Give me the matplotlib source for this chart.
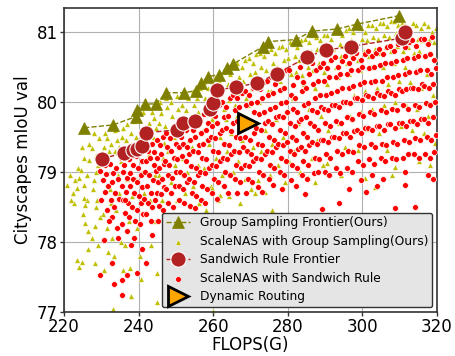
import matplotlib
matplotlib.use("Agg")
import matplotlib.pyplot as plt

# ---------------- data ----------------
group_frontier_x = [225.4, 233.1, 239.3, 239.6, 241.7, 244.7, 247.3, 252.2, 255.4, 256.7,
                    258.6, 261.6, 263.7, 265.3, 273.4, 274.7, 282.2, 286.5, 293.2, 298.6, 309.8]
group_frontier_y = [79.63, 79.67, 79.79, 79.89, 79.97, 79.97, 80.13, 80.13, 80.16, 80.27,
                    80.36, 80.39, 80.49, 80.54, 80.79, 80.86, 80.89, 81.01, 81.04, 81.11, 81.23]

sandwich_frontier_x = [230.2, 236.1, 238.5, 239.6, 240.9, 242.0, 250.3, 251.9, 255.1, 259.1,
                       259.9, 261.0, 266.1, 271.7, 277.1, 285.1, 290.2, 296.9, 310.6, 311.4]
sandwich_frontier_y = [79.19, 79.27, 79.31, 79.33, 79.37, 79.56, 79.60, 79.70, 79.73, 79.90,
                       79.99, 80.17, 80.21, 80.27, 80.40, 80.64, 80.74, 80.79, 80.91, 81.00]

dynamic_x = [269.3]
dynamic_y = [79.70]

group_samples = [
    (220.8, 78.82), (221.6, 78.95), (222.4, 78.70), (223.0, 78.88), (223.5, 78.77), (222.7, 78.55),
    (221.9, 78.60), (223.8, 79.05), (223.5, 77.74), (224.0, 77.64), (224.8, 77.71),
    (224.6, 79.03), (225.4, 79.20), (226.2, 78.96), (225.4, 78.81), (226.7, 79.17), (224.8, 79.35),
    (225.6, 78.53), (226.2, 78.60), (225.4, 78.63), (225.6, 78.27), (226.4, 78.16), (224.0, 78.91),
    (226.8, 79.40), (225.0, 78.40), (226.4, 77.90),
    (227.5, 79.34), (228.6, 79.24), (228.6, 79.00), (228.0, 78.89), (228.8, 78.60), (228.6, 78.50),
    (229.4, 79.49), (228.3, 78.23), (228.3, 77.70), (229.2, 79.10), (227.8, 78.75), (229.6, 78.35),
    (227.4, 78.05), (229.0, 77.95), (228.1, 79.55),
    (231.5, 79.49), (230.6, 79.35), (232.0, 79.30), (230.9, 79.55), (232.6, 79.40), (231.2, 79.20),
    (232.4, 78.75), (230.4, 78.40), (231.6, 78.20), (232.9, 78.05), (233.1, 77.04), (231.9, 77.85),
    (230.8, 77.60), (232.6, 78.55),
    (234.2, 79.46), (233.6, 79.60), (235.5, 79.50), (234.8, 79.35), (233.8, 79.30), (235.2, 79.15),
    (234.4, 78.95), (235.9, 77.60), (234.0, 78.45), (235.4, 78.00), (233.5, 77.80), (234.7, 78.70),
    (235.8, 79.62),
    (238.0, 79.56), (237.0, 79.68), (236.6, 79.45), (237.7, 77.63), (238.0, 77.23), (237.2, 79.30),
    (238.6, 79.40), (236.8, 78.90), (238.3, 78.65), (237.5, 78.30), (236.4, 77.95), (238.8, 79.72),
    (241.4, 79.60), (240.2, 79.75), (239.4, 79.50), (240.7, 77.47), (241.8, 79.45), (239.8, 79.30),
    (240.9, 79.00), (241.5, 78.70), (239.6, 78.20), (240.4, 77.80), (241.2, 79.85), (239.2, 78.90),
    (244.1, 79.77), (242.8, 79.70), (243.5, 79.85), (242.4, 79.55), (243.9, 79.50), (244.6, 79.62),
    (242.9, 79.25), (244.3, 78.95), (243.0, 78.60), (244.5, 78.30), (243.2, 77.95), (242.6, 79.95),
    (244.8, 77.55),
    (246.0, 79.84), (247.6, 79.93), (246.8, 79.41), (245.4, 79.70), (247.0, 79.65), (245.7, 80.00),
    (247.3, 80.05), (246.5, 79.20), (245.5, 78.95), (247.8, 79.30), (246.2, 78.60), (245.0, 77.14),
    (260.0, 77.01),
    (249.5, 79.50), (251.4, 79.74), (248.6, 80.00), (250.2, 80.08), (249.0, 79.80), (250.6, 79.90),
    (248.3, 79.60), (250.9, 79.35), (249.7, 79.10), (248.8, 78.85), (250.4, 78.60),
    (252.0, 80.10), (253.2, 80.05), (251.6, 79.95), (252.8, 79.88), (253.7, 79.78), (252.3, 79.60),
    (253.5, 79.45), (251.8, 79.20), (253.0, 79.00), (252.4, 78.70),
    (254.5, 80.15), (255.6, 80.05), (256.4, 80.20), (254.9, 79.95), (256.0, 79.85), (255.2, 79.70),
    (256.7, 79.55), (254.4, 79.35), (255.8, 79.10), (254.7, 78.80), (256.2, 78.55),
    (257.5, 80.28), (258.6, 80.20), (259.6, 80.30), (257.9, 80.05), (259.1, 80.00), (258.3, 79.85),
    (259.8, 79.75), (257.3, 79.60), (258.8, 79.40), (257.6, 79.05), (259.3, 78.80), (258.0, 78.45),
    (259.7, 78.77), (261.8, 78.67),
    (260.5, 80.35), (261.6, 80.30), (262.6, 80.42), (260.9, 80.15), (262.1, 80.12), (261.3, 79.95),
    (262.8, 79.90), (260.4, 79.70), (261.8, 79.50), (260.7, 79.20), (262.4, 78.95), (261.2, 78.60),
    (263.5, 80.45), (264.6, 80.40), (265.6, 80.50), (263.9, 80.25), (265.1, 80.20), (264.3, 80.02),
    (265.8, 79.95), (263.4, 79.75), (264.8, 79.55), (263.7, 79.30), (265.3, 79.00), (264.2, 78.65),
    (266.5, 80.55), (267.6, 80.50), (268.6, 80.60), (266.9, 80.35), (268.1, 80.30), (267.3, 80.12),
    (268.8, 80.05), (266.4, 79.80), (267.8, 79.45), (266.7, 79.15), (268.4, 78.90), (267.2, 78.55),
    (269.5, 80.62), (270.6, 80.55), (271.6, 80.68), (269.9, 80.40), (271.1, 80.42), (270.3, 80.20),
    (271.8, 80.28), (269.4, 79.95), (270.8, 79.35), (271.2, 78.70), (270.0, 78.75), (272.0, 78.89),
    (272.5, 80.70), (273.6, 80.65), (274.4, 80.72), (272.9, 80.50), (274.1, 80.45), (273.3, 80.30),
    (274.8, 80.15), (272.4, 80.00), (273.8, 79.60), (272.7, 79.30), (273.9, 78.71), (275.2, 78.96),
    (275.5, 80.75), (276.6, 80.70), (277.6, 80.78), (275.9, 80.55), (277.1, 80.50), (276.3, 80.40),
    (277.8, 80.30), (275.4, 80.15), (276.8, 79.75), (275.8, 79.40), (277.4, 79.10), (275.8, 78.46),
    (278.5, 80.80), (279.6, 80.75), (280.6, 80.85), (278.9, 80.60), (280.1, 80.62), (279.3, 80.45),
    (280.8, 80.40), (278.4, 80.20), (279.8, 79.85), (278.7, 79.50), (280.4, 79.15), (279.2, 78.85),
    (281.5, 80.82), (282.6, 80.78), (283.6, 80.88), (281.9, 80.65), (283.1, 80.60), (282.3, 80.42),
    (283.8, 80.38), (281.4, 80.05), (282.8, 79.70), (281.7, 79.30), (283.4, 79.00),
    (284.5, 80.90), (285.6, 80.85), (286.5, 80.95), (284.9, 80.70), (286.1, 80.72), (285.3, 80.50),
    (286.8, 80.45), (284.4, 80.25), (285.8, 79.90), (284.7, 79.55), (286.4, 79.20), (285.4, 78.93),
    (287.3, 78.86),
    (287.5, 80.92), (288.6, 80.88), (289.6, 80.95), (287.9, 80.75), (289.1, 80.70), (288.3, 80.55),
    (289.8, 80.42), (287.4, 80.20), (288.8, 79.80), (287.7, 79.45), (289.4, 79.10),
    (290.5, 80.95), (291.6, 80.90), (292.6, 81.00), (290.9, 80.78), (292.1, 80.75), (291.3, 80.60),
    (292.8, 80.50), (290.4, 80.25), (291.8, 79.95), (290.7, 79.60), (290.5, 79.13),
    (293.5, 81.00), (294.6, 80.95), (295.6, 81.02), (293.9, 80.82), (295.1, 80.80), (294.3, 80.65),
    (295.8, 80.55), (293.4, 80.35), (294.8, 80.00), (293.7, 79.70), (295.4, 79.35), (294.2, 78.95),
    (296.5, 81.05), (297.6, 81.00), (298.4, 81.08), (296.9, 80.88), (298.1, 80.85), (297.3, 80.68),
    (298.8, 80.60), (296.4, 80.40), (297.8, 80.10), (296.7, 79.80), (297.2, 79.31), (298.8, 79.31),
    (299.5, 81.06), (300.6, 81.00), (301.6, 81.10), (299.9, 80.90), (301.1, 80.88), (300.3, 80.72),
    (301.8, 80.65), (299.4, 80.45), (300.8, 80.15), (299.7, 79.85), (301.2, 79.61), (300.7, 78.91),
    (302.5, 81.10), (303.6, 81.05), (304.6, 81.12), (302.9, 80.92), (304.1, 80.90), (303.3, 80.75),
    (304.8, 80.70), (302.4, 80.50), (303.8, 80.20), (302.7, 79.90), (304.4, 79.55), (303.4, 78.79),
    (305.5, 81.12), (306.6, 81.08), (307.6, 81.15), (305.9, 80.95), (307.1, 80.92), (306.3, 80.78),
    (307.8, 80.72), (305.4, 80.50), (306.8, 80.25), (305.7, 79.95), (306.6, 79.31), (307.9, 78.96),
    (308.5, 81.15), (309.6, 81.10), (310.6, 81.12), (308.9, 80.98), (310.1, 80.95), (309.3, 80.80),
    (310.8, 80.72), (308.4, 80.55), (309.8, 80.30), (308.7, 80.00), (310.4, 79.65), (308.7, 79.07),
    (311.5, 81.10), (312.6, 81.05), (313.6, 81.12), (311.9, 80.95), (313.1, 80.92), (312.3, 80.78),
    (313.8, 80.70), (311.4, 80.50), (312.8, 80.28), (311.7, 79.95), (313.4, 79.60), (312.8, 79.27),
    (314.5, 81.10), (315.6, 81.05), (316.6, 81.12), (314.9, 80.90), (316.1, 80.88), (315.3, 80.72),
    (316.8, 80.65), (314.4, 80.45), (315.8, 80.20), (314.7, 79.90), (316.4, 79.55), (315.2, 79.15),
    (317.5, 81.08), (318.6, 81.00), (319.6, 81.05), (317.9, 80.88), (319.1, 80.85), (318.3, 80.70),
    (319.8, 80.60), (317.4, 80.40), (318.8, 80.10), (317.7, 79.80), (319.5, 79.41), (318.2, 79.10),
]

sandwich_samples = [
    (229.6, 79.02), (230.4, 78.88), (231.2, 78.97), (230.9, 78.72), (229.9, 78.60), (231.5, 78.45),
    (230.8, 78.03), (229.7, 77.53), (231.8, 78.80), (231.0, 79.10),
    (232.3, 79.12), (233.1, 78.98), (234.0, 79.05), (232.8, 78.85), (233.7, 78.70), (234.5, 78.90),
    (232.5, 78.60), (233.4, 78.50), (234.8, 78.62), (233.0, 78.35), (234.2, 78.20), (233.4, 77.40),
    (233.0, 77.70), (234.6, 78.05), (232.1, 78.30),
    (235.3, 79.20), (236.2, 79.10), (237.4, 79.18), (235.8, 79.00), (236.9, 78.92), (237.7, 78.98),
    (235.5, 78.80), (236.6, 78.72), (237.8, 78.80), (235.9, 78.60), (237.1, 78.55), (236.3, 78.42),
    (237.5, 78.35), (235.6, 78.25), (236.8, 78.15), (237.9, 77.95), (235.5, 77.46), (237.0, 77.53),
    (235.5, 77.24), (236.4, 78.60),
    (238.2, 79.30), (239.3, 79.22), (240.4, 79.28), (238.6, 79.10), (239.8, 79.05), (240.9, 79.15),
    (238.4, 78.90), (239.5, 78.85), (240.7, 78.95), (238.9, 78.70), (240.1, 78.65), (241.0, 78.78),
    (238.3, 78.50), (239.6, 78.45), (240.6, 78.55), (239.0, 78.30), (240.3, 78.25), (238.8, 78.06),
    (239.6, 77.56), (240.8, 77.90), (241.2, 78.40),
    (241.5, 79.35), (242.6, 79.30), (243.6, 79.40), (241.9, 79.15), (243.0, 79.20), (244.0, 79.10),
    (241.7, 79.00), (242.8, 78.95), (243.9, 78.88), (242.2, 78.80), (243.3, 78.70), (241.4, 78.62),
    (242.5, 78.55), (243.7, 78.50), (242.0, 78.40), (243.2, 78.30), (242.0, 77.70), (243.5, 78.10),
    (244.3, 78.60), (244.2, 79.28),
    (244.8, 79.45), (245.7, 79.38), (246.6, 79.50), (245.0, 79.20), (246.1, 79.25), (244.6, 79.02),
    (245.5, 79.05), (246.8, 79.12), (245.1, 78.85), (246.3, 78.90), (244.9, 78.70), (246.0, 78.68),
    (246.9, 78.78), (245.4, 78.52), (246.5, 78.45), (245.2, 78.30),
    (247.3, 79.55), (248.4, 79.48), (249.5, 79.58), (247.6, 79.35), (248.8, 79.30), (249.9, 79.40),
    (247.2, 79.15), (248.2, 79.10), (249.4, 79.20), (247.8, 78.95), (248.9, 78.92), (250.0, 79.00),
    (247.4, 78.75), (248.6, 78.70), (249.7, 78.80), (248.0, 78.55), (249.2, 78.50),
    (250.5, 79.62), (251.5, 79.50), (252.6, 79.60), (250.8, 79.35), (252.0, 79.40), (250.4, 79.18),
    (251.6, 79.22), (252.8, 79.15), (251.0, 79.00), (252.3, 78.95), (250.7, 78.80), (251.8, 78.75),
    (252.9, 78.85), (250.9, 78.60), (252.2, 78.55), (253.0, 79.35),
    (253.5, 79.68), (254.6, 79.60), (255.7, 79.70), (253.9, 79.45), (255.1, 79.50), (253.4, 79.25),
    (254.5, 79.30), (255.8, 79.28), (254.0, 79.08), (255.3, 79.05), (253.6, 78.90), (254.8, 78.85),
    (255.9, 78.95), (254.2, 78.70), (255.5, 78.65), (253.8, 78.52), (255.0, 78.48),
    (256.4, 79.75), (257.5, 79.82), (258.6, 79.70), (256.8, 79.55), (258.0, 79.60), (256.2, 79.38),
    (257.3, 79.40), (258.5, 79.45), (256.9, 79.20), (258.1, 79.18), (256.5, 79.00), (257.7, 78.98),
    (258.9, 79.05), (257.0, 78.80), (258.3, 78.75), (256.6, 78.60), (257.9, 78.55),
    (259.4, 79.90), (260.4, 79.80), (261.5, 79.95), (259.8, 79.65), (261.0, 79.70), (259.3, 79.50),
    (260.5, 79.48), (261.7, 79.55), (260.0, 79.30), (261.2, 79.28), (259.6, 79.10), (260.8, 79.08),
    (261.9, 79.15), (260.2, 78.90), (261.4, 78.85), (259.8, 78.70), (261.0, 78.62),
    (262.4, 80.00), (263.5, 79.92), (264.6, 80.05), (262.8, 79.78), (264.0, 79.80), (262.3, 79.60),
    (263.4, 79.62), (264.7, 79.58), (263.0, 79.40), (264.2, 79.38), (262.6, 79.20), (263.8, 79.18),
    (264.9, 79.25), (263.2, 79.00), (264.5, 78.95), (262.9, 78.80), (264.1, 78.70),
    (265.4, 80.10), (266.5, 80.05), (267.6, 80.12), (265.8, 79.88), (267.0, 79.92), (265.3, 79.70),
    (266.4, 79.72), (267.7, 79.68), (266.0, 79.50), (267.2, 79.48), (265.6, 79.30), (266.8, 79.28),
    (267.9, 79.35), (266.2, 79.10), (267.5, 79.05), (265.9, 78.90), (267.1, 78.85), (266.4, 78.70),
    (268.4, 80.15), (269.5, 80.10), (270.6, 80.20), (268.8, 79.95), (270.0, 79.98), (271.0, 79.85),
    (270.5, 79.68), (268.6, 79.50), (269.8, 79.45), (270.9, 79.55), (269.0, 79.30), (270.2, 79.25),
    (268.5, 79.10), (269.7, 79.08), (270.8, 79.15), (269.2, 78.90), (270.4, 78.85), (268.9, 78.70),
    (271.4, 80.25), (272.5, 80.18), (273.6, 80.28), (271.8, 80.00), (273.0, 80.05), (272.3, 79.82),
    (273.5, 79.85), (271.6, 79.62), (272.8, 79.60), (273.9, 79.70), (272.0, 79.40), (273.2, 79.38),
    (271.5, 79.20), (272.7, 79.18), (273.8, 79.25), (272.2, 79.00), (273.4, 78.95), (271.9, 78.78),
    (273.0, 78.72),
    (274.4, 80.30), (275.5, 80.35), (276.6, 80.25), (274.8, 80.10), (276.0, 80.12), (275.3, 79.90),
    (276.5, 79.92), (274.6, 79.72), (275.8, 79.68), (276.9, 79.78), (275.0, 79.50), (276.2, 79.45),
    (274.5, 79.30), (275.7, 79.28), (276.8, 79.35), (275.2, 79.10), (276.4, 79.05), (274.9, 78.90),
    (276.1, 78.82),
    (277.4, 80.40), (278.5, 80.38), (279.6, 80.45), (277.8, 80.17), (279.0, 80.20), (278.3, 79.98),
    (279.5, 80.00), (277.6, 79.80), (278.8, 79.78), (279.9, 79.85), (278.0, 79.60), (279.2, 79.55),
    (277.5, 79.40), (278.7, 79.38), (279.8, 79.42), (278.2, 79.20), (279.4, 79.15), (277.9, 79.00),
    (279.1, 78.95), (278.5, 78.75),
    (280.4, 80.45), (281.4, 80.24), (282.6, 80.35), (280.8, 80.10), (282.0, 80.05), (281.3, 79.90),
    (282.5, 79.85), (280.6, 79.70), (281.8, 79.65), (282.9, 79.72), (281.0, 79.50), (282.2, 79.45),
    (280.5, 79.30), (281.7, 79.25), (282.8, 79.32), (281.2, 79.10), (282.4, 79.05), (280.9, 78.88),
    (282.1, 78.80),
    (283.4, 80.50), (284.1, 80.29), (285.6, 80.40), (283.8, 80.15), (285.0, 80.20), (284.3, 79.95),
    (285.5, 79.98), (283.6, 79.75), (284.8, 79.78), (285.9, 79.70), (284.0, 79.55), (285.2, 79.50),
    (283.5, 79.35), (284.7, 79.30), (285.8, 79.38), (284.2, 79.15), (285.4, 79.10), (283.9, 78.95),
    (285.1, 78.90), (284.6, 78.68),
    (286.4, 80.55), (287.5, 80.45), (288.6, 80.50), (286.8, 80.25), (288.0, 80.30), (287.3, 80.05),
    (288.5, 80.10), (286.6, 79.88), (287.8, 79.85), (288.9, 79.92), (287.0, 79.65), (288.2, 79.60),
    (286.5, 79.42), (287.7, 79.40), (288.8, 79.45), (287.2, 79.20), (288.4, 79.18), (286.9, 78.98),
    (288.1, 79.00),
    (289.4, 80.55), (290.5, 80.48), (291.6, 80.60), (289.8, 80.30), (291.0, 80.35), (290.3, 80.10),
    (291.5, 80.12), (289.6, 79.90), (290.8, 79.88), (291.9, 79.95), (290.0, 79.70), (291.2, 79.65),
    (289.5, 79.45), (290.7, 79.42), (291.8, 79.50), (290.2, 79.25), (291.4, 79.20), (289.9, 79.00),
    (291.1, 78.95), (289.2, 78.47),
    (292.7, 80.64), (293.5, 80.50), (294.6, 80.58), (292.8, 80.35), (294.0, 80.40), (293.3, 80.15),
    (294.5, 80.20), (292.6, 79.95), (293.8, 79.92), (294.9, 80.00), (293.0, 79.72), (294.2, 79.70),
    (292.5, 79.50), (293.7, 79.48), (294.8, 79.55), (293.2, 79.30), (294.4, 79.25), (292.9, 79.05),
    (294.1, 78.98), (293.6, 78.55),
    (295.4, 80.65), (296.5, 80.55), (297.6, 80.62), (295.8, 80.40), (297.0, 80.45), (296.3, 80.20),
    (297.5, 80.22), (295.6, 80.00), (296.8, 79.98), (297.9, 80.05), (296.0, 79.78), (297.2, 79.75),
    (295.5, 79.55), (296.7, 79.50), (297.8, 79.58), (296.2, 79.30), (297.4, 79.28), (295.9, 79.05),
    (297.1, 79.00), (296.5, 78.75),
    (298.4, 80.70), (299.5, 80.60), (300.6, 80.68), (298.8, 80.45), (300.0, 80.50), (299.3, 80.25),
    (300.5, 80.28), (298.6, 80.05), (299.8, 80.02), (300.9, 80.10), (299.0, 79.82), (300.2, 79.80),
    (298.5, 79.60), (299.7, 79.55), (300.8, 79.62), (299.2, 79.38), (300.4, 79.35), (298.9, 79.15),
    (300.1, 79.10), (299.6, 78.88), (300.9, 78.72),
    (301.4, 80.72), (302.5, 80.65), (303.6, 80.70), (301.8, 80.48), (303.0, 80.50), (302.3, 80.28),
    (303.5, 80.30), (301.6, 80.08), (302.8, 80.05), (303.9, 80.12), (302.0, 79.85), (303.2, 79.82),
    (301.5, 79.62), (302.7, 79.60), (303.8, 79.65), (302.2, 79.40), (303.4, 79.36), (301.9, 79.18),
    (303.1, 79.12), (302.6, 78.95), (303.8, 78.80),
    (304.4, 80.75), (305.5, 80.68), (306.6, 80.78), (304.8, 80.52), (306.0, 80.55), (305.3, 80.30),
    (306.5, 80.35), (304.6, 80.10), (305.8, 80.08), (306.9, 80.15), (305.0, 79.88), (306.2, 79.85),
    (304.5, 79.65), (305.7, 79.60), (306.8, 79.68), (305.2, 79.40), (306.4, 79.38), (304.9, 79.20),
    (306.1, 79.15), (305.6, 78.90),
    (307.4, 80.80), (308.5, 80.72), (309.6, 80.82), (307.8, 80.55), (309.0, 80.58), (308.3, 80.35),
    (309.5, 80.38), (307.6, 80.12), (308.8, 80.10), (309.9, 80.18), (308.0, 79.90), (309.2, 79.88),
    (307.5, 79.68), (308.7, 79.62), (309.8, 79.70), (308.2, 79.42), (309.4, 79.40), (307.9, 79.20),
    (309.1, 79.18), (308.7, 78.49),
    (310.4, 80.85), (311.5, 80.78), (312.6, 80.86), (310.8, 80.60), (312.0, 80.62), (311.3, 80.40),
    (312.5, 80.42), (310.6, 80.15), (311.8, 80.18), (312.9, 80.20), (311.0, 79.95), (312.2, 79.90),
    (310.5, 79.70), (311.7, 79.65), (312.8, 79.72), (311.2, 79.45), (312.4, 79.42), (310.9, 79.20),
    (312.1, 79.25), (311.4, 78.81), (311.4, 79.00),
    (313.4, 80.88), (314.5, 80.80), (315.6, 80.90), (313.8, 80.62), (315.0, 80.65), (314.3, 80.42),
    (315.5, 80.45), (313.6, 80.20), (314.8, 80.18), (315.9, 80.25), (314.0, 79.95), (315.2, 79.92),
    (313.5, 79.72), (314.7, 79.68), (315.8, 79.75), (314.2, 79.48), (315.4, 79.45), (313.9, 79.25),
    (315.1, 79.20), (314.0, 78.50),
    (316.4, 80.90), (317.5, 80.82), (318.6, 80.92), (316.8, 80.65), (318.0, 80.68), (319.2, 80.60),
    (317.3, 80.45), (318.5, 80.40), (319.6, 80.48), (316.6, 80.22), (317.8, 80.20), (319.0, 80.25),
    (317.0, 79.98), (318.2, 79.95), (319.5, 80.00), (316.5, 79.75), (317.7, 79.70), (318.9, 79.78),
    (317.2, 79.50), (318.4, 79.45), (319.7, 79.52), (316.9, 79.25), (318.1, 79.20), (319.3, 79.28),
    (317.6, 78.95), (319.0, 78.90),
]

group_x = [p[0] for p in group_samples]
group_y = [p[1] for p in group_samples]
sandwich_x = [p[0] for p in sandwich_samples]
sandwich_y = [p[1] for p in sandwich_samples]

labels = ["Group Sampling Frontier(Ours)", "ScaleNAS with Group Sampling(Ours)",
          "Sandwich Rule Frontier", "ScaleNAS with Sandwich Rule", "Dynamic Routing"]

# ---------------- plot ----------------
plt.rcParams['font.family'] = ['DejaVu Sans']
fig = plt.figure(figsize=(4.55, 3.56), dpi=100)
ax = fig.add_axes([64 / 455, 44 / 356, 373 / 455, 304 / 356])

ax.grid(True, color='#b0b0b0', linewidth=0.8, zorder=0)
ax.set_axisbelow(True)

h_gs = ax.scatter(group_x, group_y, marker='^', s=16, color='#bfbf00',
                  edgecolors='white', linewidths=0.3, zorder=2)
h_sw = ax.scatter(sandwich_x, sandwich_y, marker='o', s=18, color='#ff0000',
                  edgecolors='white', linewidths=0.5, zorder=3)
h_gf, = ax.plot(group_frontier_x, group_frontier_y, linestyle='--', color='#808000',
                marker='^', markersize=9, markerfacecolor='#808000', markeredgecolor='#808000',
                markeredgewidth=0.5, linewidth=1.0, zorder=4)
h_sf, = ax.plot(sandwich_frontier_x, sandwich_frontier_y, linestyle='--', color='#b22222',
                marker='o', markersize=11, markerfacecolor='#b22222', markeredgecolor='white',
                markeredgewidth=0.8, linewidth=1.0, zorder=5)
h_dr, = ax.plot(dynamic_x, dynamic_y, linestyle='none', marker='>', markersize=15,
                markerfacecolor='#ffa500', markeredgecolor='black', markeredgewidth=2, zorder=6)

ax.set_xlim(220, 320)
ax.set_ylim(77, 81.34)
ax.set_xticks([220, 240, 260, 280, 300, 320])
ax.set_yticks([77, 78, 79, 80, 81])
ax.tick_params(labelsize=12, length=3, width=1, pad=1.5, color='#333333')
for sp in ax.spines.values():
    sp.set_color('#333333')
    sp.set_linewidth(1.2)
ax.set_xlabel('FLOPS(G)', fontsize=12, labelpad=0)
ax.set_ylabel('Cityscapes mIoU val', fontsize=12, labelpad=3)

leg = ax.legend([h_gf, h_gs, h_sf, h_sw, h_dr], labels, loc='lower right',
                fontsize=8.8, frameon=True, fancybox=True, framealpha=1.0,
                facecolor='#e5e5e5', edgecolor='#333333', borderaxespad=0.4,
                labelspacing=0.45, handletextpad=0.8, borderpad=0.3)
leg.get_frame().set_linewidth(1.0)
leg.set_zorder(10)

fig.savefig('out.png', dpi=100)
